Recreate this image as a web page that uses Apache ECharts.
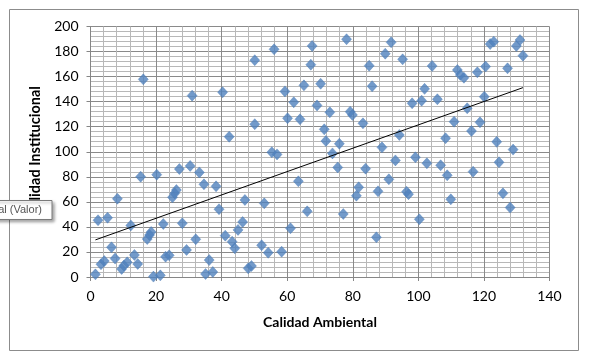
<!DOCTYPE html>
<html>
<head>
<meta charset="utf-8">
<script src="https://cdn.jsdelivr.net/npm/echarts@6/dist/echarts.min.js"></script>
<style>html,body{margin:0;padding:0;background:#fff}#c{width:589px;height:361px}</style>
</head>
<body>
<div id="c"></div>
<script>
const xTitle = 'Calidad Ambiental';
const yTitle = 'Calidad Institucional';
const trendName = 'Lineal (Valor)';
const xValues = [1.5,2.3,3.2,4.2,5.2,6.4,7.5,8.2,9.5,10.2,11.2,12.3,13.4,14.4,15.3,16.1,17.3,18.0,18.5,19.2,
  20.2,21.3,22.2,22.9,24.0,25.0,25.7,26.2,27.1,28.0,29.3,30.4,31.0,32.1,33.2,34.6,35.1,36.2,37.3,38.3,
  39.2,40.3,41.1,42.3,43.2,44.0,45.0,46.4,47.1,48.1,49.1,50.1,50.1,52.2,53.0,54.2,55.3,56.0,56.9,58.3,
  59.3,60.1,61.0,62.0,63.4,63.9,65.1,66.1,67.2,67.6,69.1,70.2,71.3,71.8,73.0,73.8,75.4,75.9,77.1,78.1,
  79.2,79.9,81.1,81.8,83.1,83.9,85.0,85.9,87.2,87.7,88.9,89.9,91.0,91.7,93.0,94.2,95.2,96.4,97.0,98.1,
  99.1,100.3,101.0,101.9,102.6,104.2,105.8,106.8,108.3,108.8,109.9,110.9,111.9,112.8,113.9,114.9,116.2,116.7,118.0,118.8,
  120.1,120.5,121.9,123.0,123.9,124.6,125.8,127.2,128.0,128.9,129.9,131.0,131.9];
const yValues = [2.1,45.3,10.2,12.7,47.3,23.7,14.7,62.5,6.4,9.1,11.7,41.2,17.6,10.4,80.1,157.8,30.3,33.5,35.9,0.3,
  81.7,1.3,42.3,16.2,17.3,63.6,66.8,69.4,86.2,42.9,21.6,88.7,144.8,30.1,83.5,74,2.4,13.5,4,72.4,
  54.1,147.5,33,112,28.2,22.9,37.6,43.9,61.5,6.9,8.8,173.1,122,25.3,58.8,19.4,99.6,181.8,97.9,20.2,
  148.2,126.7,38.9,139.5,76.4,125.9,153,52.4,169.5,184.5,137,154.3,117.9,108.6,131.5,98.7,87.5,106.4,50.3,189.8,
  132,129.4,64.9,71.6,122.7,86.5,168.7,152.3,31.7,68.4,103.5,178.3,78,187.4,93.1,113.4,173.8,68.1,66.1,138.7,
  95.6,46.1,140.8,150.2,90.8,168.5,141.9,89.2,110.8,81.2,62,124,165.3,161.3,159.1,134.7,116.6,84.1,163.4,123.5,
  143.9,168,186,187.9,107.9,91.6,66.8,166.6,55.4,101.7,184.5,189.2,176.7];
const xTicks = [0,20,40,60,80,100,120,140];
const yTicks = [0,20,40,60,80,100,120,140,160,180,200];

const points = xValues.map((x,i)=>[x,yValues[i]]);
// least squares trend line (like Excel's linear trendline)
const n = points.length;
let sx=0,sy=0,sxx=0,sxy=0;
points.forEach(([x,y])=>{sx+=x;sy+=y;sxx+=x*x;sxy+=x*y;});
const slope=(n*sxy-sx*sy)/(n*sxx-sx*sx);
const intercept=(sy-slope*sx)/n;
const xMin=Math.min(...xValues), xMax=Math.max(...xValues);
const trend=[[xMin,intercept+slope*xMin],[xMax,intercept+slope*xMax]];

const font='Lato';
const chart = echarts.init(document.getElementById('c'));
chart.setOption({
  animation:false,
  backgroundColor:'#fff',
  grid:{left:90.5,top:26.5,width:459,height:250.5},
  xAxis:{type:'value',min:xTicks[0],max:xTicks[xTicks.length-1],interval:20,
    name:xTitle,nameLocation:'middle',nameGap:38,
    nameTextStyle:{fontFamily:font,fontWeight:'bold',fontSize:14,color:'#000'},
    axisLine:{show:true,lineStyle:{color:'#868686'}},
    axisTick:{show:true,length:4,lineStyle:{color:'#868686'}},
    axisLabel:{fontFamily:font,fontSize:14,color:'#000',margin:12},
    splitLine:{show:true,lineStyle:{color:'#8a8a8a',width:1}},
    minorTick:{show:false,splitNumber:5},
    minorSplitLine:{show:true,lineStyle:{color:'#b8b8b8',width:1}}
  },
  yAxis:{type:'value',min:yTicks[0],max:yTicks[yTicks.length-1],interval:20,
    name:yTitle,nameLocation:'middle',nameGap:47,nameRotate:90,
    nameTextStyle:{fontFamily:font,fontWeight:'bold',fontSize:14.5,color:'#000'},
    axisLine:{show:true,lineStyle:{color:'#868686'}},
    axisTick:{show:true,length:4,lineStyle:{color:'#868686'}},
    axisLabel:{fontFamily:font,fontSize:14,color:'#000',margin:12},
    splitLine:{show:true,lineStyle:{color:'#8a8a8a',width:1}},
    minorTick:{show:false,splitNumber:5},
    minorSplitLine:{show:true,lineStyle:{color:'#b8b8b8',width:1}}
  },
  series:[
    {type:'scatter',name:'Valor',data:points,symbol:'diamond',symbolSize:[10,11],
      itemStyle:{color:'#4F81BD',borderColor:'#4a7ab3',borderWidth:0.5}},
    {type:'line',name:trendName,data:trend,showSymbol:false,symbol:'none',
      lineStyle:{color:'#000',width:1},z:3}
  ],
  graphic:[
    {type:'rect',shape:{x:9.5,y:9.5,width:569,height:341},
      style:{fill:'none',stroke:'#8c8c8c',lineWidth:1},z:10,silent:true},
    {type:'rect',shape:{x:-60,y:200.5,width:112,height:19},
      style:{fill:'#fff',stroke:'#7a7a7a',lineWidth:1,shadowBlur:3,shadowOffsetX:2,shadowOffsetY:2,shadowColor:'rgba(0,0,0,0.35)'},z:20},
    {type:'text',x:42,y:210,style:{text:trendName,align:'right',verticalAlign:'middle',
      font:'11px "Liberation Sans"',fill:'#555'},z:21}
  ]
});
</script>
</body>
</html>
